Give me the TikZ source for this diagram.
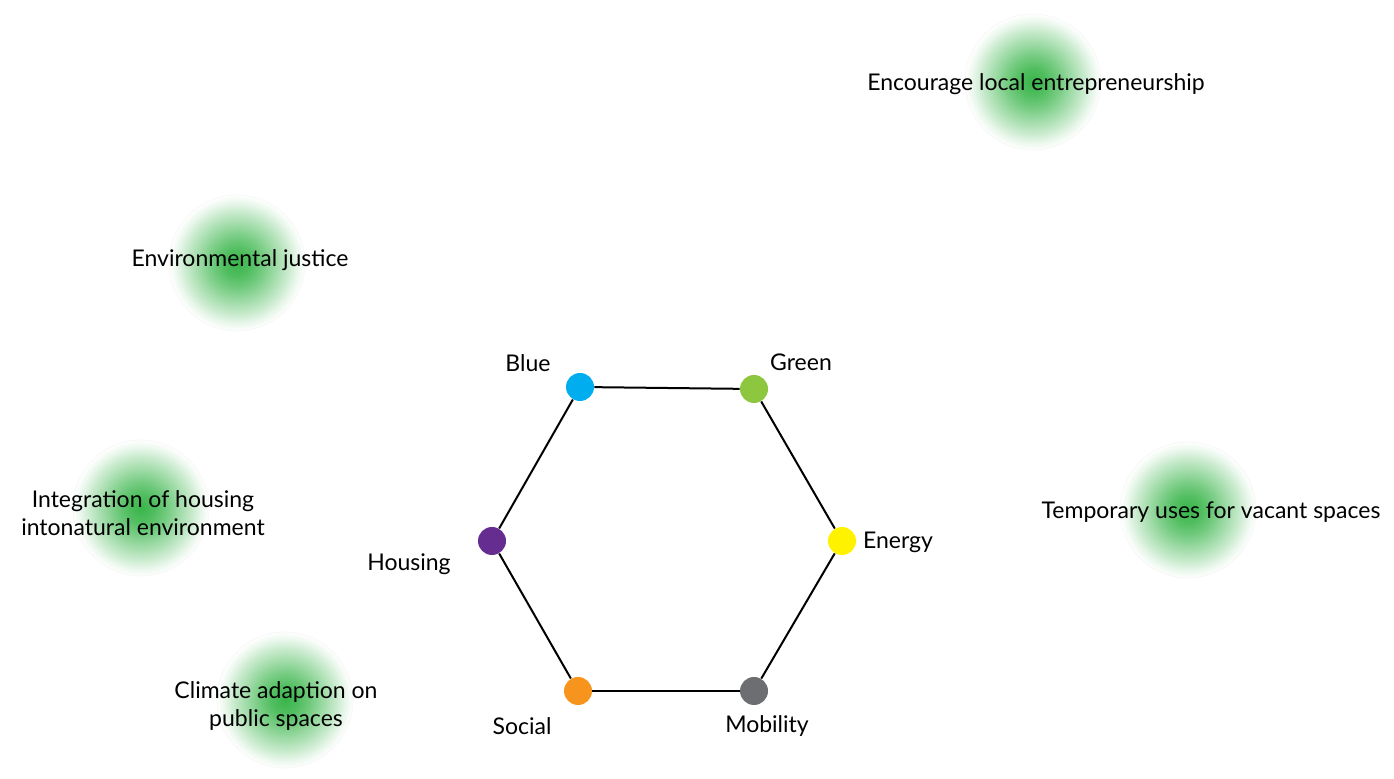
\documentclass[tikz,border=0pt]{standalone}
\usepackage{fontspec}
\setmainfont{Lato}
\definecolor{blobg}{RGB}{57,181,74}
\definecolor{cblue}{RGB}{0,174,239}
\definecolor{cgreen}{RGB}{141,198,63}
\definecolor{cyellow}{RGB}{255,242,0}
\definecolor{cgray}{RGB}{109,110,113}
\definecolor{corange}{RGB}{247,148,29}
\definecolor{cpurple}{RGB}{102,45,145}
\pgfdeclareradialshading{blobshade}{\pgfpoint{0bp}{0bp}}{%
  color(0bp)=(blobg); color(5bp)=(blobg!88!white); color(10bp)=(blobg!68!white);
  color(15bp)=(blobg!45!white); color(19bp)=(blobg!27!white); color(22bp)=(blobg!12!white);
  color(25bp)=(white); color(50bp)=(white)}
\begin{document}
\begin{tikzpicture}[x=0.5pt,y=-0.5pt,
  blob/.style={circle,minimum size=68pt,inner sep=0pt,shading=blobshade,draw=black!4,line width=0.3pt},
  lbl/.style={font=\fontsize{11.5}{14}\selectfont,align=center,inner sep=0pt},
  dot/.style={circle,minimum size=14pt,inner sep=0pt},
  edge/.style={line width=1pt,black}]
\useasboundingbox (0,0) rectangle (1394,779);
% blobs
\node[blob] (b1) at (1033,82) {};
\node[blob] (b2) at (237,263) {};
\node[blob] (b3) at (141,508) {};
\node[blob] (b4) at (1188,510) {};
\node[blob] (b5) at (285,700) {};
\node[lbl] (t1) at (1036,84) {Encourage local entrepreneurship};
\node[lbl] (t2) at (240,260) {Environmental justice};
\node[lbl] (t3) at (143,513) {Integration of housing\\intonatural environment};
\node[lbl] (t4) at (1211,512) {Temporary uses for vacant spaces};
\node[lbl] (t5) at (276,706) {Climate adaption on\\public spaces};
% hexagon
\node[dot,fill=cblue] (blue) at (580,387) {};
\node[dot,fill=cgreen] (green) at (754,389) {};
\node[dot,fill=cyellow] (energy) at (842,541) {};
\node[dot,fill=cgray] (mob) at (754,691) {};
\node[dot,fill=corange] (soc) at (578,691) {};
\node[dot,fill=cpurple] (hous) at (492,541) {};
\draw[edge] (blue) -- (green);
\draw[edge] (green) -- (energy);
\draw[edge] (energy) -- (mob);
\draw[edge] (mob) -- (soc);
\draw[edge] (soc) -- (hous);
\draw[edge] (hous) -- (blue);
\node[lbl] (lb) at (528,363) {Blue};
\node[lbl] (lg) at (801,362) {Green};
\node[lbl] (le) at (898,542) {Energy};
\node[lbl] (lm) at (767,726) {Mobility};
\node[lbl] (ls) at (522,726) {Social};
\node[lbl] (lh) at (409,564) {Housing};
\end{tikzpicture}
\end{document}
